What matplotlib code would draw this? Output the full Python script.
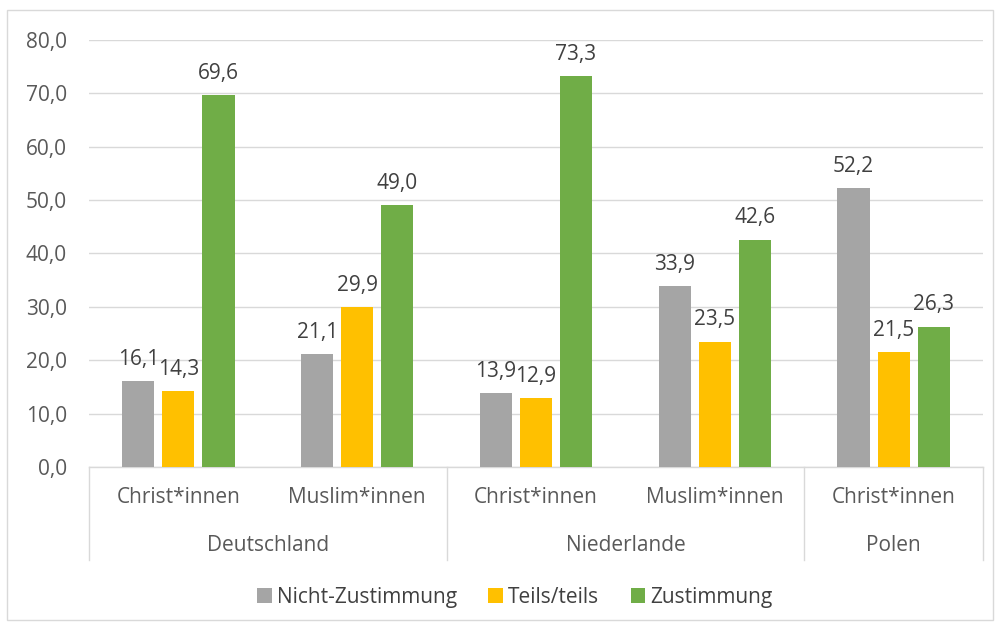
import matplotlib
matplotlib.use('Agg')
import matplotlib.pyplot as plt
from matplotlib.patches import Rectangle
from matplotlib.lines import Line2D

plt.rcParams['font.family'] = ['Open Sans', 'DejaVu Sans']

laender = ['Deutschland', 'Niederlande', 'Polen']
gruppen = ['Christ*innen', 'Muslim*innen', 'Christ*innen', 'Muslim*innen', 'Christ*innen']
gruppen_land = [0, 0, 1, 1, 2]
serien = ['Nicht-Zustimmung', 'Teils/teils', 'Zustimmung']
farben = ['#a5a5a5', '#ffc000', '#70ad47']
werte = [
    [16.1, 21.1, 13.9, 33.9, 52.2],
    [14.3, 29.9, 12.9, 23.5, 21.5],
    [69.6, 49.0, 73.3, 42.6, 26.3],
]

fs = 15

fig = plt.figure(figsize=(10, 6.28), dpi=100)
ax = fig.add_axes([0.089, 0.2564, 0.894, 0.6800])

x = list(range(len(gruppen)))
breite = 0.18
abstand = 0.224
for i, (name, farbe, vals) in enumerate(zip(serien, farben, werte)):
    pos = [p + (i - 1) * abstand for p in x]
    bars = ax.bar(pos, vals, breite, color=farbe, label=name, zorder=3)
    for b, v in zip(bars, vals):
        ax.annotate(f'{v:.1f}'.replace('.', ','), (b.get_x() + b.get_width() / 2, v),
                    xytext=(0, 8), textcoords='offset points', ha='center', va='bottom',
                    fontsize=fs, color='#404040')

ax.set_xlim(-0.5, len(gruppen) - 0.5)
ax.set_ylim(0, 80)
ax.set_yticks(range(0, 81, 10))
ax.set_yticklabels([f'{t:.1f}'.replace('.', ',') for t in range(0, 81, 10)])
ax.tick_params(axis='y', length=0, pad=16, labelsize=fs, labelcolor='#595959')
ax.set_xticks([])
ax.grid(axis='y', color='#d9d9d9', linewidth=1, zorder=0)
for s in ['top', 'right', 'left']:
    ax.spines[s].set_visible(False)
ax.spines['bottom'].set_color('#d9d9d9')
ax.spines['bottom'].set_linewidth(1)

tr = ax.get_xaxis_transform()
for p, g in zip(x, gruppen):
    ax.text(p, -0.072, g, transform=tr, ha='center', va='center', fontsize=fs, color='#595959')
for j, land in enumerate(laender):
    idx = [k for k, l in enumerate(gruppen_land) if l == j]
    ax.text(sum(idx) / len(idx), -0.185, land, transform=tr, ha='center', va='center',
            fontsize=fs, color='#595959')
grenzen = [-0.5] + [k + 0.5 for k in range(len(gruppen) - 1) if gruppen_land[k] != gruppen_land[k + 1]] + [len(gruppen) - 0.5]
for g in grenzen:
    ax.add_line(Line2D([g, g], [0, -0.218], transform=tr, color='#d9d9d9', linewidth=1, clip_on=False))

ax.legend(loc='center', bbox_to_anchor=(0.515, 0.049), bbox_transform=fig.transFigure, ncol=3,
          frameon=False, fontsize=fs, handlelength=0.7, handleheight=0.7, handletextpad=0.25,
          columnspacing=1.5, labelcolor='#404040')

fig.patches.append(Rectangle((0.007, 0.013), 0.986, 0.971, transform=fig.transFigure,
                             fill=False, edgecolor='#d9d9d9', linewidth=1))

fig.savefig('out.png', dpi=100)
